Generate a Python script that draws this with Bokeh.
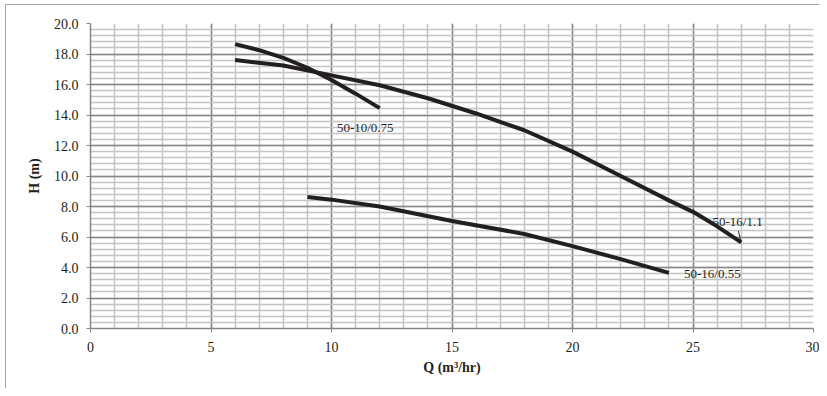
from bokeh.plotting import figure
from bokeh.models import FixedTicker, Label
from bokeh.embed import file_html
from bokeh.resources import INLINE

# Pump curves: Q (m3/hr) vs H (m)
q_10_075 = [6, 7, 8, 9, 10, 11, 12]
h_10_075 = [18.65, 18.25, 17.75, 17.1, 16.3, 15.4, 14.45]

q_16_11 = [6, 8, 10, 12, 14, 16, 18, 20, 22, 24, 25, 26, 27]
h_16_11 = [17.6, 17.25, 16.6, 15.95, 15.1, 14.1, 13.0, 11.6, 10.0, 8.4, 7.65, 6.7, 5.65]

q_16_055 = [9, 10, 12, 15, 18, 20, 22, 24]
h_16_055 = [8.62, 8.45, 8.0, 7.05, 6.2, 5.4, 4.55, 3.65]

x_major = [0, 5, 10, 15, 20, 25, 30]
x_minor = list(range(0, 31))
y_major = [0, 2, 4, 6, 8, 10, 12, 14, 16, 18, 20]
y_minor = [round(i * 0.4, 1) for i in range(0, 51)]
y_labels = {v: f"{v:.1f}" for v in y_major}

series_labels = ["50-10/0.75", "50-16/1.1", "50-16/0.55"]
label_pos = [(11.4, 13.2), (26.85, 7.0), (25.8, 3.6)]

FONT = "Liberation Serif"
INK = "#231f20"

p = figure(width=819, height=388, x_range=(0, 30), y_range=(0, 20),
           output_backend="svg", toolbar_location=None,
           min_border_left=90, min_border_top=23, min_border_right=6, min_border_bottom=60)
p.styles = {"background-color": "white",
            "box-shadow": "inset 5px 4px 0 0 #ffffff, inset 6px 5px 0 0 #a6a6a6"}
p.border_fill_alpha = 0
p.outline_line_color = None
p.background_fill_color = "white"

for ax, ticks in ((p.xaxis, x_major), (p.yaxis, y_major)):
    ax.ticker = FixedTicker(ticks=ticks)
    ax.axis_line_color = "#868686"
    ax.axis_line_width = 1.5
    ax.major_tick_line_color = "#868686"
    ax.major_tick_in = 0
    ax.major_tick_out = 4
    ax.minor_tick_line_color = None
    ax.major_label_text_font = FONT
    ax.major_label_text_font_size = "14px"
    ax.major_label_text_color = INK
    ax.axis_label_text_font = FONT
    ax.axis_label_text_font_size = "14px"
    ax.axis_label_text_font_style = "bold"
    ax.axis_label_text_color = INK

p.yaxis.major_label_overrides = y_labels
p.xaxis.major_label_standoff = 9
p.yaxis.major_label_standoff = 8
p.xaxis.axis_label = "Q (m³/hr)"
p.yaxis.axis_label = "H (m)"
p.xaxis.axis_label_standoff = 5
p.yaxis.axis_label_standoff = 9

p.xgrid.ticker = FixedTicker(ticks=x_major, minor_ticks=x_minor)
p.ygrid.ticker = FixedTicker(ticks=y_major, minor_ticks=y_minor)
for g in (p.xgrid, p.ygrid):
    g.grid_line_color = "#878787"
    g.grid_line_width = 1.5
    g.minor_grid_line_color = "#c4c4c4"
    g.minor_grid_line_width = 1.5

for qs, hs in ((q_10_075, h_10_075), (q_16_11, h_16_11), (q_16_055, h_16_055)):
    p.line(qs, hs, line_color=INK, line_width=4, line_join="round")

# leader line for 50-16/1.1
p.line([q_16_11[-1] - 0.12, q_16_11[-1]], [6.4, h_16_11[-1]], line_color=INK, line_width=1)

for txt, (lx, ly) in zip(series_labels, label_pos):
    p.add_layout(Label(x=lx, y=ly, text=txt, text_font=FONT, text_font_size="13px",
                       text_color=INK, text_align="center", text_baseline="middle"))

open("out.html", "w").write(file_html(p, INLINE))
